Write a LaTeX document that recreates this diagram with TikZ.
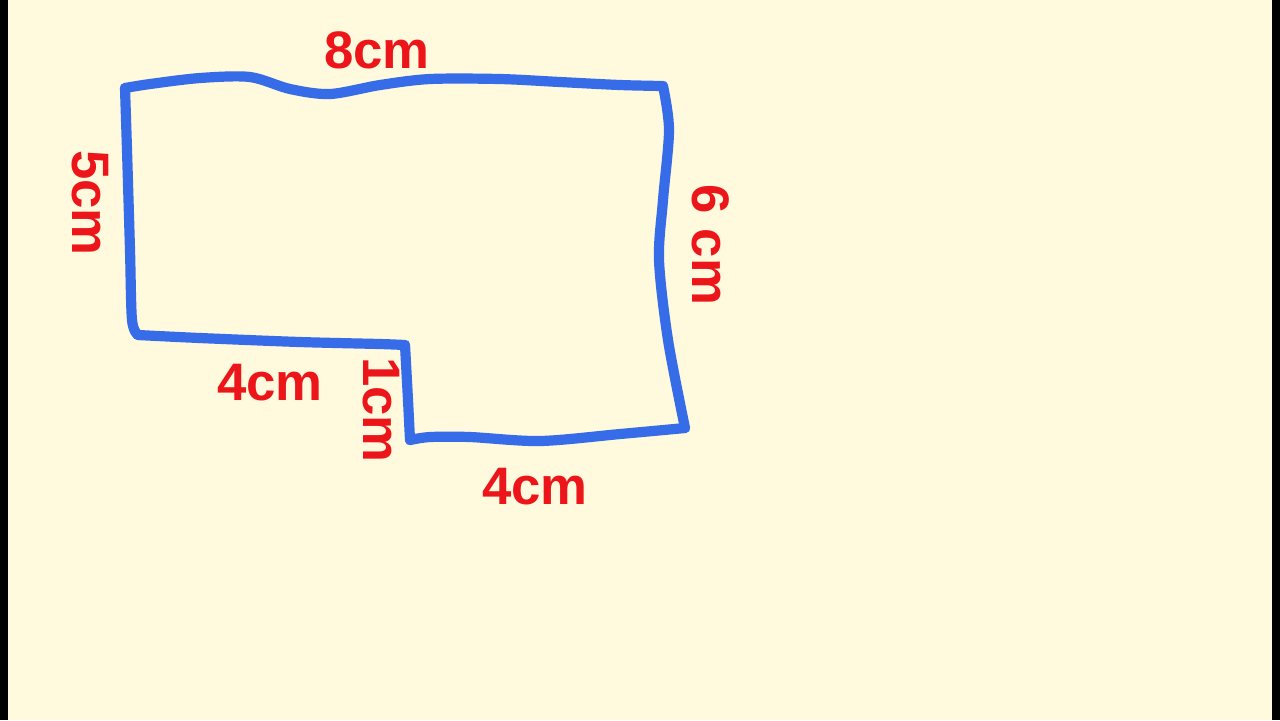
\documentclass[tikz,border=0pt]{standalone}
\usepackage{fontspec}
\setmainfont{Liberation Sans}
\definecolor{bgcream}{RGB}{255,249,222}
\definecolor{penblue}{RGB}{55,108,232}
\definecolor{penred}{RGB}{236,22,26}
\tikzset{
  outline/.style={draw=penblue, line width=2.9pt, line join=round, line cap=round},
  lbl/.style={text=penred, font=\bfseries\fontsize{15}{15}\selectfont, inner sep=0pt},
}
\begin{document}
\begin{tikzpicture}[x=0.01cm, y=-0.01cm]
\useasboundingbox (0,0) rectangle (1280,720);
\fill[bgcream] (0,0) rectangle (1280,720);
\fill[black] (0,0) rectangle (8,720);
\fill[black] (1272,0) rectangle (1280,720);
% corners
\coordinate (tl) at (125,88);
\coordinate (tr) at (663,86);
\coordinate (br) at (685,428);
\coordinate (bm) at (410,440);
\coordinate (im) at (405,345);
\coordinate (bl) at (138,335);
\draw[outline] plot[smooth, tension=0.5] coordinates {(tl) (150,84) (200,78) (250,77) (290,89) (330,94) (380,85) (430,79) (500,79) (560,82) (620,85) (tr)};
\draw[outline] plot[smooth, tension=0.5] coordinates {(tr) (669,130) (663,200) (659,260) (668,340) (br)};
\draw[outline] plot[smooth, tension=0.5] coordinates {(br) (620,434) (540,441) (470,437) (430,437) (bm)};
\draw[outline] (bm) -- (408,400) -- (im);
\draw[outline] plot[smooth, tension=0.5] coordinates {(im) (380,344) (300,342) (200,338) (bl)};
\draw[outline] plot[smooth, tension=0.5] coordinates {(bl) (132,320) (130,250) (127,150) (tl)};
% labels
\node[lbl] (top) at (377,50) {8cm};
\node[lbl, rotate=-90] (left) at (90,203) {5cm};
\node[lbl, rotate=-90] (right) at (711,245) {6 cm};
\node[lbl] (lower) at (270,383) {4cm};
\node[lbl, rotate=-90] (step) at (381,410) {1cm};
\node[lbl] (bottom) at (535,487) {4cm};
\end{tikzpicture}
\end{document}
